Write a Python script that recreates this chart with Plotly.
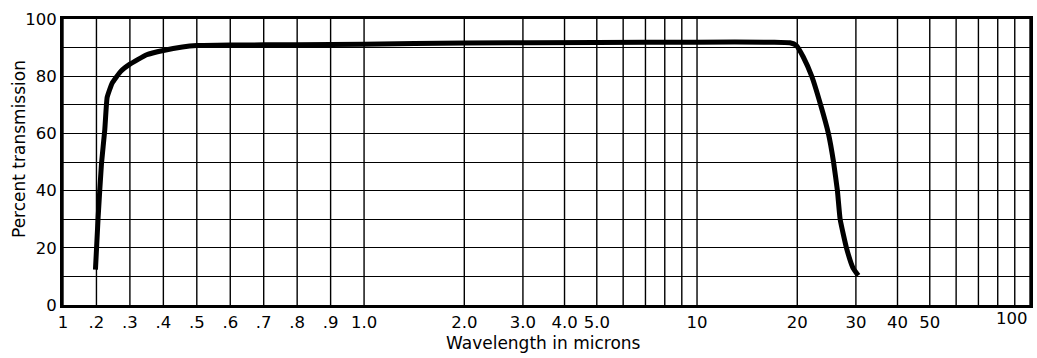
import numpy as np
import plotly.graph_objects as go

# ---- data ----
wavelength_um = [0.197, 0.205, 0.215, 0.225, 0.232, 0.247, 0.272, 0.30, 0.35, 0.40,
                 0.457, 0.50, 0.60, 0.80, 1.0, 2.0, 5.0, 10.0, 17.0, 19.0,
                 19.86, 20.83, 22.1, 23.5, 24.8, 25.7, 26.4, 26.9, 28.1, 29.4, 30.5]
percent_transmission = [12.4, 30.6, 49.4, 61.4, 72.6, 77.6, 81.6, 84.2, 87.5, 89.0,
                        90.2, 90.7, 90.9, 91.0, 91.2, 91.6, 91.8, 91.9, 91.9, 91.7,
                        90.8, 86.8, 80.0, 70.0, 60.0, 50.0, 40.0, 30.0, 20.0, 13.0, 10.3]

grid_wavelengths = [0.1, 0.2, 0.3, 0.4, 0.5, 0.6, 0.7, 0.8, 0.9, 1.0,
                    2, 3, 4, 5, 6, 7, 8, 9, 10,
                    20, 30, 40, 50, 60, 70, 80, 90, 100]
label_wavelengths = [0.1, 0.2, 0.3, 0.4, 0.5, 0.6, 0.7, 0.8, 0.9, 1.0,
                     2, 3, 4, 5, 10, 20, 30, 40, 50]
label_texts = ["1", ".2", ".3", ".4", ".5", ".6", ".7", ".8", ".9", "1.0",
               "2.0", "3.0", "4.0", "5.0", "10", "20", "30", "40", "50"]
y_ticks = [0, 20, 40, 60, 80, 100]

# ---- axis scale of the chart paper: linear 0.1-1.0, then logarithmic 1-100 ----
LIN_SPAN = 302.0   # width of linear section (0.1 -> 1.0)
DECADE = 334.0     # width of one decade


def paper_scale(x):
    x = np.asarray(x, dtype=float)
    return np.where(x <= 1.0, LIN_SPAN * (x - 0.1) / 0.9,
                    LIN_SPAN + DECADE * np.log10(np.maximum(x, 1e-9)))


X_MAX = float(paper_scale(100))

fig = go.Figure()
fig.add_trace(go.Scatter(
    x=paper_scale(wavelength_um), y=percent_transmission,
    mode="lines", line=dict(color="black", width=5, shape="spline", smoothing=0.4),
    hoverinfo="skip", showlegend=False))

tick_font = dict(family="DejaVu Sans, sans-serif", size=16.5, color="black")
title_font = dict(family="DejaVu Sans, sans-serif", size=17, color="black")

fig.update_layout(
    width=1037, height=358,
    margin=dict(l=63, r=4, t=19, b=53),
    paper_bgcolor="white", plot_bgcolor="white",
    font=tick_font,
    showlegend=False,
    xaxis=dict(
        range=[0, X_MAX], showgrid=False, zeroline=False,
        tickmode="array", tickvals=list(paper_scale(label_wavelengths)),
        ticktext=label_texts, ticks="", ticklen=0,
        showline=True, linecolor="black", linewidth=3, mirror=True,
        tickfont=tick_font,
    ),
    yaxis=dict(
        range=[0, 100], showgrid=True, gridcolor="black", gridwidth=1.4,
        tickmode="array", tickvals=y_ticks, ticktext=[str(v) for v in y_ticks],
        ticks="", ticklen=0, zeroline=False,
        minor=dict(dtick=10, tick0=0, showgrid=True, gridcolor="black", gridwidth=1.4, ticks=""),
        showline=True, linecolor="black", linewidth=3, mirror=True,
        tickfont=tick_font,
    ),
)

# vertical grid lines of the chart paper
for w in grid_wavelengths:
    fig.add_shape(type="line", xref="x", yref="paper",
                  x0=float(paper_scale(w)), x1=float(paper_scale(w)), y0=0, y1=1,
                  line=dict(color="black", width=1.4), layer="below")

# "100" label, right-aligned at the right edge as in the reference
fig.add_annotation(x=X_MAX, y=0, xref="x", yref="paper", text="100",
                   showarrow=False, xanchor="right", yanchor="middle", yshift=-13,
                   font=tick_font)

# axis titles
fig.add_annotation(x=0.5, y=0, xref="paper", yref="paper", text="Wavelength in microns",
                   showarrow=False, xanchor="center", yanchor="middle", yshift=-38,
                   xshift=-3, font=title_font)
fig.add_annotation(x=0, y=0.5, xref="paper", yref="paper", text="Percent transmission",
                   showarrow=False, textangle=-90, xanchor="center", yanchor="middle",
                   xshift=-44, yshift=13, font=title_font)

# remove the default page margin so the figure fills the window exactly
post = ("document.documentElement.style.margin='0';"
        "document.body.style.margin='0';"
        "document.body.style.overflow='hidden';")
fig.write_html("out.html", post_script=post, config={"displayModeBar": False})
